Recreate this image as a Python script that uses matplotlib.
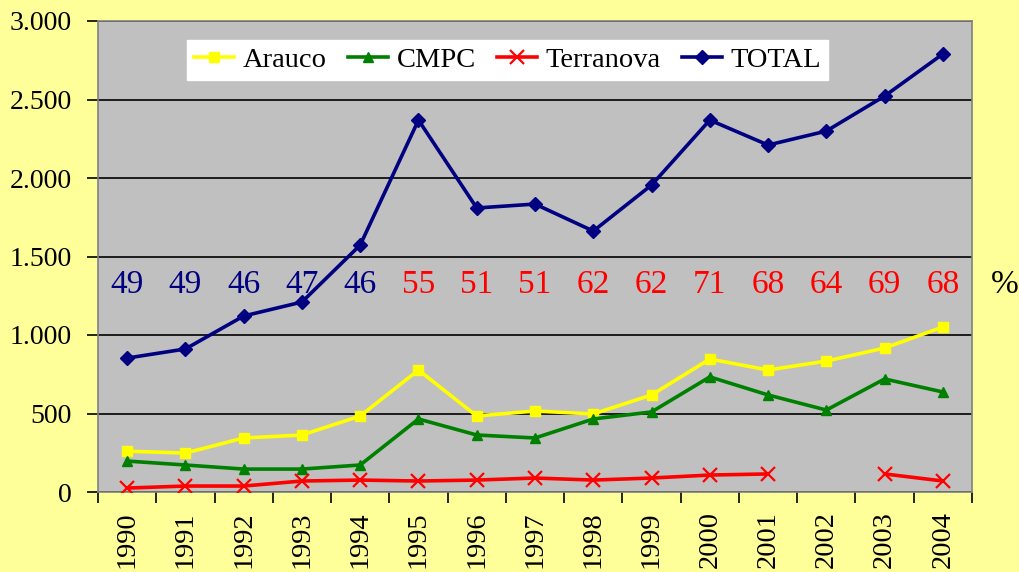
import numpy as np
import matplotlib
matplotlib.use("Agg")
import matplotlib.pyplot as plt
from matplotlib.ticker import FuncFormatter, MultipleLocator

plt.rcParams['font.family'] = ['Liberation Serif', 'DejaVu Serif']

years = ['1990', '1991', '1992', '1993', '1994', '1995', '1996', '1997',
         '1998', '1999', '2000', '2001', '2002', '2003', '2004']
arauco = [260, 248, 344, 363, 484, 777, 484, 516, 497, 618, 847, 777, 834, 917, 1051]
cmpc = [197, 172, 146, 146, 172, 465, 363, 344, 465, 510, 733, 618, 522, 720, 637]
terranova = [25, 38, 38, 70, 76, 70, 76, 89, 76, 89, 108, 115, np.nan, 115, 70]
total = [853, 911, 1121, 1210, 1573, 2369, 1809, 1834, 1662, 1955, 2369, 2210, 2299, 2522, 2790]
pct = [49, 49, 46, 47, 46, 55, 51, 51, 62, 62, 71, 68, 64, 69, 68]
pct_colors = ['#000080'] * 5 + ['#FF0000'] * 10

x = np.arange(len(years))

fig = plt.figure(figsize=(10.2, 5.72), dpi=100, facecolor='#FFFF99')
ax = fig.add_axes([98 / 1020, 1 - 492 / 572, 874 / 1020, 471 / 572])
ax.set_facecolor('#C0C0C0')

ax.plot(x, arauco, color='#FFFF00', lw=2.6, marker='s', ms=7, label='Arauco', zorder=3)
ax.plot(x, cmpc, color='#008000', lw=2.6, marker='^', ms=7.5, label='CMPC', zorder=3)
ax.plot(x, terranova, color='#FF0000', lw=2.6, marker='x', ms=10, mew=1.6, label='Terranova', zorder=3)
ax.plot(x, total, color='#000080', lw=2.6, marker='D', ms=7, label='TOTAL', zorder=3)

# porcentajes
for i, p in enumerate(pct):
    ax.text(x[i], 1320, str(p), color=pct_colors[i], fontsize=24, ha='center', va='center', zorder=4)
ax.text(15.07, 1320, '%', color='black', fontsize=24, ha='center', va='center', clip_on=False)

ax.set_xlim(-0.5, len(years) - 0.5)
ax.set_ylim(0, 3000)
ax.yaxis.set_major_locator(MultipleLocator(500))
ax.yaxis.set_major_formatter(FuncFormatter(lambda v, pos: f'{int(v):,}'.replace(',', '.')))
ax.grid(axis='y', color='black', lw=1.2, zorder=1)
ax.set_axisbelow(True)

ax.set_xticks(x)
ax.set_xticklabels(years, rotation=90)
ax.set_xticks(np.arange(-0.5, len(years)), minor=True)
ax.tick_params(axis='x', which='major', length=0, pad=14, labelsize=20.5)
ax.tick_params(axis='x', which='minor', length=8, width=1.2, color='black')
ax.tick_params(axis='y', length=8, width=1.2, color='black', labelsize=20, pad=11)

for s in ax.spines.values():
    s.set_color('#808080')
    s.set_linewidth(1.2)

leg = ax.legend(loc='upper left', bbox_to_anchor=(0.102, 0.96), ncol=4, fontsize=20.5,
                frameon=True, fancybox=False, framealpha=1, edgecolor='white',
                handlelength=1.4, handletextpad=0.3, columnspacing=0.75,
                borderpad=0.25, borderaxespad=0)
leg.get_frame().set_facecolor('white')

fig.savefig('out.png', dpi=100, facecolor=fig.get_facecolor())
